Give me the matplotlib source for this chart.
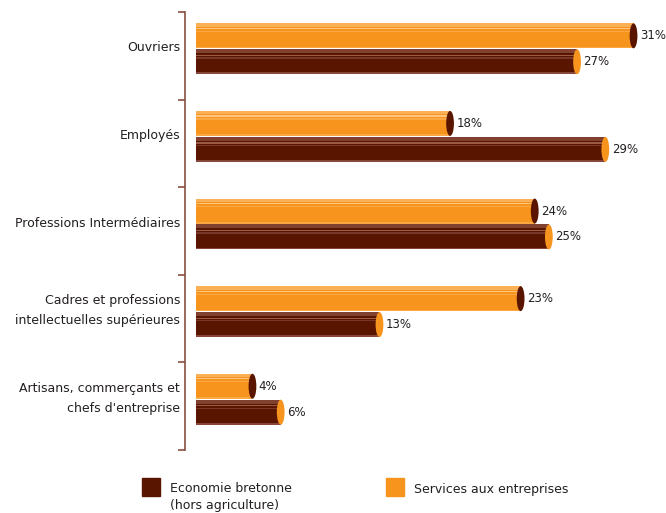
import matplotlib.pyplot as plt
from matplotlib.patches import Ellipse, Rectangle

categories = ["Ouvriers", "Employés", "Professions Intermédiaires",
              "Cadres et professions\nintellectuelles supérieures",
              "Artisans, commerçants et\nchefs d'entreprise"]
services = [31, 18, 24, 23, 4]      # Services aux entreprises
bretagne = [27, 29, 25, 13, 6]      # Economie bretonne (hors agriculture)

ORANGE = "#F7941D"
BROWN = "#591500"
TXT = "#231F20"
AXC = "#86503F"

fig = plt.figure(figsize=(6.66, 5.13), dpi=100)
ax = fig.add_axes([185 / 666, 1 - 450 / 513, 481 / 666, 438 / 513])
ax.set_xlim(-0.78, 33.3)
ax.set_ylim(5, 0)

h = 0.285
cap_w = 0.55


def cylinder(y, v, base, cap, stripes):
    ax.barh(y, v, height=h, left=0, color=base, linewidth=0, zorder=2)
    # light stripes on the top part of the cylinder
    for (f0, f1, c) in stripes:
        top = y - h / 2
        ax.barh(top + h * (f0 + f1) / 2, v, height=h * (f1 - f0), left=0,
                color=c, linewidth=0, zorder=3)
    ax.add_patch(Ellipse((v, y), cap_w, h, facecolor=cap, edgecolor="none", zorder=4))
    ax.text(v + 0.45, y, f"{v}%", va="center", ha="left", fontsize=8.5, color=TXT)


orange_stripes = [(0.0, 0.14, "#FBB055"), (0.18, 0.23, "#FDC582"),
                  (0.30, 0.35, "#FAA744"), (0.94, 1.0, "#FAA744")]
brown_stripes = [(0.0, 0.16, "#80412F"), (0.22, 0.27, "#9A5A45"),
                 (0.32, 0.37, "#77382A"), (0.93, 1.0, "#86473A")]

for i, cat in enumerate(categories):
    cylinder(i + 0.272, services[i], ORANGE, BROWN, orange_stripes)
    cylinder(i + 0.568, bretagne[i], BROWN, ORANGE, brown_stripes)
    ax.text(-0.0105, i + 0.41, cat, transform=ax.get_yaxis_transform(),
            ha="right", va="center", multialignment="right", fontsize=9,
            color=TXT, linespacing=1.7)

for s in ["top", "right", "bottom"]:
    ax.spines[s].set_visible(False)
ax.spines["left"].set_color(AXC)
ax.spines["left"].set_linewidth(1.2)
ax.set_yticks(range(6))
ax.set_yticklabels([])
ax.tick_params(axis="y", length=5, width=1.2, color=AXC, direction="out")
ax.set_xticks([])

# legend
W, H = 666, 513
fig.patches.append(Rectangle((142 / W, 1 - 496 / H), 18 / W, 18 / H,
                             transform=fig.transFigure, color=BROWN))
fig.text(170 / W, 1 - 489 / H, "Economie bretonne", fontsize=9, color=TXT, va="center")
fig.text(170 / W, 1 - 506 / H, "(hors agriculture)", fontsize=9, color=TXT, va="center")
fig.patches.append(Rectangle((386 / W, 1 - 496 / H), 18 / W, 18 / H,
                             transform=fig.transFigure, color=ORANGE))
fig.text(414 / W, 1 - 489 / H, "Services aux entreprises", fontsize=9, color=TXT, va="center")

fig.savefig("out.png", dpi=100)
